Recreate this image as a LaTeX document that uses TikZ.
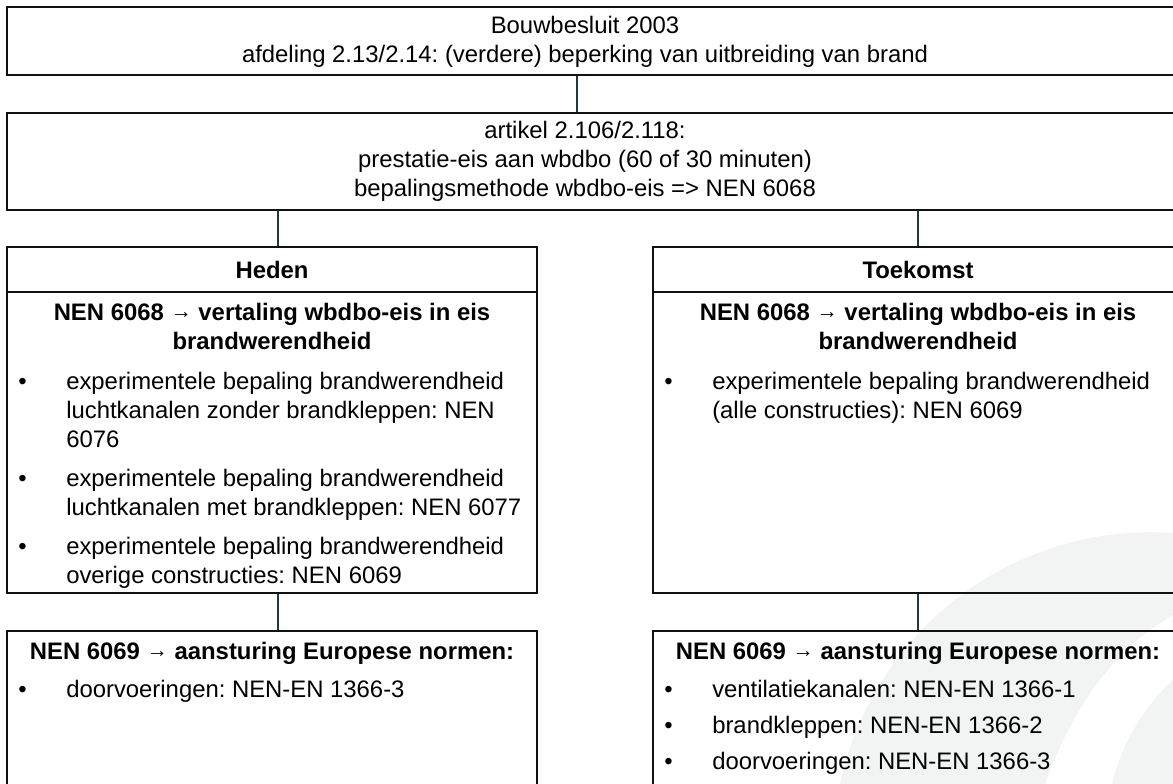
\documentclass[tikz,border=0pt]{standalone}
\usepackage{fontspec}
\setmainfont{Liberation Sans}
\usepackage{array}
\frenchspacing
\definecolor{kaderkleur}{HTML}{111111}
\definecolor{lijnkleur}{HTML}{1C3A40}
\definecolor{vlakkleur}{HTML}{F2F3F3}
\newcommand{\pijl}{{\fontsize{16}{16}\selectfont\raisebox{1.5pt}{→}}}
\newcommand{\lijst}[1]{\begin{tabular}[t]{@{}p{36pt}@{}l@{}}#1\end{tabular}}

\begin{document}
\begin{tikzpicture}[x=0.75pt, y=-0.75pt,
    kader/.style={draw=kaderkleur, line width=1.8pt, rectangle, inner sep=0pt},
    lijn/.style={draw=lijnkleur, line width=1.5pt},
    tekst/.style={font=\fontsize{17.9}{21.75}\selectfont, align=center, inner sep=0pt},
    lijsttekst/.style={font=\fontsize{17.9}{21.75}\selectfont, inner sep=0pt, anchor=base west}]
                \useasboundingbox (0,0) rectangle (1173,784);
                % watermerk
                \fill[vlakkleur] (1173,533) .. controls (1015,522) and (873,629) .. (840,784) -- (1045,784) .. controls (1075,700) and (1120,645) .. (1173,615) -- cycle;
                \fill[vlakkleur] (1173,680) .. controls (1140,710) and (1120,750) .. (1112,784) -- (1173,784) -- cycle;
                % bovenste kaders
                \node[kader, minimum width=885pt, minimum height=51pt] (besluit) at (597,41) {};
                \node[tekst] (besluittekst) at (585,42) {Bouwbesluit 2003\\afdeling 2.13/2.14: (verdere) beperking van uitbreiding van brand};
                \node[kader, minimum width=885pt, minimum height=72.75pt] (artikel) at (597,161.5) {};
                \node[tekst] (artikeltekst) at (585,161.5) {artikel 2.106/2.118:\\prestatie-eis aan wbdbo (60 of 30 minuten)\\bepalingsmethode wbdbo-eis => NEN 6068};
                % heden
                \node[kader, tekst, minimum width=397.5pt, minimum height=33.75pt, font=\fontsize{17.9}{21.75}\selectfont\bfseries] (heden) at (272,269.5) {Heden};
                \node[kader, minimum width=397.5pt, minimum height=225.75pt] (hedenlijf) at (272,442.5) {};
                \node[tekst, font=\fontsize{17.9}{21.75}\selectfont\bfseries] (hedenkop) at (272,326) {NEN 6068 \pijl{} vertaling wbdbo-eis in eis\\brandwerendheid};
                \node[lijsttekst] (hedenlijst) at (18,389) {\lijst{• & experimentele bepaling brandwerendheid\\
                    & luchtkanalen zonder brandkleppen: NEN\\
                    & 6076\\[7.5pt]
                    • & experimentele bepaling brandwerendheid\\
                    & luchtkanalen met brandkleppen: NEN 6077\\[7.5pt]
                    • & experimentele bepaling brandwerendheid\\
                    & overige constructies: NEN 6069}};
                % toekomst
                \node[kader, tekst, minimum width=397.5pt, minimum height=33.75pt, font=\fontsize{17.9}{21.75}\selectfont\bfseries] (toekomst) at (918,269.5) {Toekomst};
                \node[kader, minimum width=397.5pt, minimum height=225.75pt] (toekomstlijf) at (918,442.5) {};
                \node[tekst, font=\fontsize{17.9}{21.75}\selectfont\bfseries] (toekomstkop) at (918,326) {NEN 6068 \pijl{} vertaling wbdbo-eis in eis\\brandwerendheid};
                \node[lijsttekst] (toekomstlijst) at (664,389) {\lijst{• & experimentele bepaling brandwerendheid\\
                    & (alle constructies): NEN 6069}};
                % europese normen
                \node[kader, minimum width=397.5pt, minimum height=141.75pt] (nunormen) at (272,725.5) {};
                \node[tekst, anchor=base, font=\fontsize{17.9}{21.75}\selectfont\bfseries] (nunormenkop) at (272,659) {NEN 6069 \pijl{} aansturing Europese normen:};
                \node[lijsttekst] (nunormenlijst) at (18,697) {\lijst{• & doorvoeringen: NEN-EN 1366-3}};
                \node[kader, minimum width=397.5pt, minimum height=141.75pt] (straksnormen) at (918,725.5) {};
                \node[tekst, anchor=base, font=\fontsize{17.9}{21.75}\selectfont\bfseries] (straksnormenkop) at (918,659) {NEN 6069 \pijl{} aansturing Europese normen:};
                \node[lijsttekst] (straksnormenlijst) at (664,697) {\lijst{• & ventilatiekanalen: NEN-EN 1366-1\\[5.25pt]
                    • & brandkleppen: NEN-EN 1366-2\\[5.25pt]
                    • & doorvoeringen: NEN-EN 1366-3}};
                % verbindingen
                \coordinate (boven) at (577,0);
                \coordinate (links) at (278,0);
                \draw[lijn] (besluit.south -| boven) -- (artikel.north -| boven);
                \draw[lijn] (artikel.south -| links) -- (heden.north -| links);
                \draw[lijn] (artikel.south -| toekomst.north) -- (toekomst.north);
                \draw[lijn] (hedenlijf.south -| links) -- (nunormen.north -| links);
                \draw[lijn] (toekomstlijf.south) -- (straksnormen.north);
            \end{tikzpicture}
\end{document}
